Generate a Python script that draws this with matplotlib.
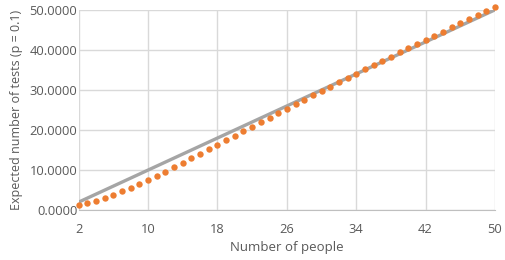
import numpy as np
import matplotlib.pyplot as plt

# Nombre de personnes et nombre attendu de tests (p = 0.1)
people = list(range(2, 51))
expected_tests = [1.38, 1.81, 2.38, 3.05, 3.81, 4.65, 5.56, 6.51, 7.51,
                  8.55, 9.61, 10.70, 11.80, 12.91, 14.04, 15.16, 16.30, 17.43,
                  18.57, 19.70, 20.83, 21.96, 23.09, 24.21, 25.32, 26.43, 27.53,
                  28.63, 29.73, 30.82, 31.90, 32.98, 34.05, 35.12, 36.19, 37.25,
                  38.31, 39.36, 40.41, 41.45, 42.50, 43.54, 44.57, 45.61, 46.64,
                  47.67, 48.69, 49.72, 50.74]
individual_tests = people  # un test par personne

x_ticks = [2, 10, 18, 26, 34, 42, 50]
y_ticks = [0, 10, 20, 30, 40, 50]

plt.rcParams['font.family'] = ['Open Sans', 'DejaVu Sans']
txt = '#595959'

fig = plt.figure(figsize=(5.05, 2.6), dpi=100)
ax = fig.add_axes([0.156, 0.192, 0.824, 0.77])

ax.plot(people, individual_tests, color='#A5A5A5', lw=2.4, zorder=2)
ax.plot(people, expected_tests, 'o', color='#ED7D31', ms=4.6, mec='none',
        zorder=3, clip_on=False)

ax.set_xlim(2, 50)
ax.set_ylim(0, 50)
ax.set_xticks(x_ticks)
ax.set_yticks(y_ticks)
ax.set_yticklabels([f"{v:.4f}" for v in y_ticks])
ax.grid(True, color='#D9D9D9', lw=1)
ax.set_axisbelow(True)
for s in ['top', 'right', 'left']:
    ax.spines[s].set_visible(False)
ax.spines['bottom'].set_color('#BFBFBF')
ax.tick_params(length=0, labelsize=9.3, labelcolor=txt)
ax.tick_params(axis='x', pad=9)
ax.tick_params(axis='y', pad=1)

ax.set_xlabel("Number of people", fontsize=9.5, color=txt, labelpad=4)
ax.set_ylabel("Expected number of tests (p = 0.1)", fontsize=9, color=txt)
ax.yaxis.set_label_coords(-0.133, 0.5)

fig.savefig("out.png", dpi=100)
